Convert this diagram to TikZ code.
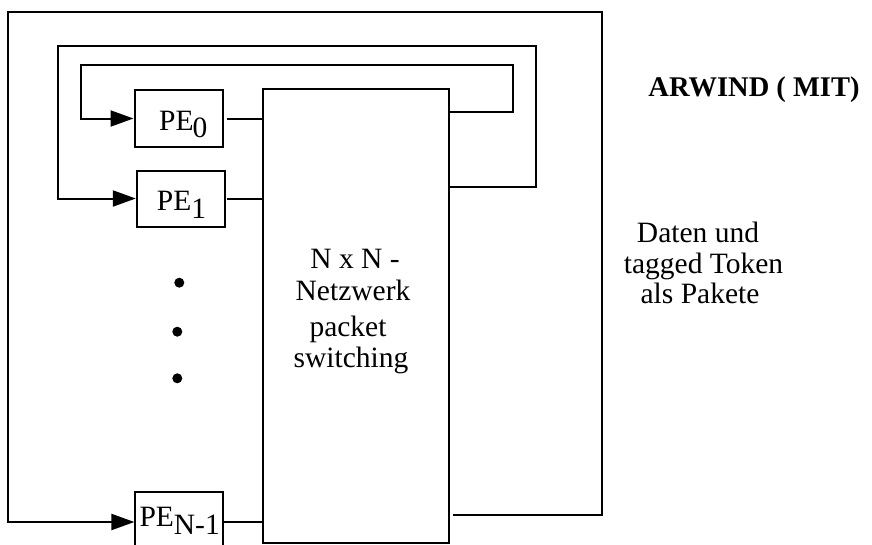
\documentclass[tikz,border=0pt]{standalone}
\usepackage{fontspec}
\setmainfont{Liberation Serif}
\usetikzlibrary{arrows.meta}
\begin{document}
\begin{tikzpicture}[x=1pt,y=-1pt,
  wire/.style={line width=2pt},
  feed/.style={wire,-{Triangle[length=23pt,width=16pt]}},
  pebox/.style={draw,line width=2pt,minimum width=88pt,inner sep=0pt},
  txt/.style={font=\fontsize{29.5}{34}\selectfont,inner sep=0pt,anchor=base},
  title/.style={font=\fontsize{28.5}{34}\selectfont\bfseries,inner sep=0pt,anchor=base}]
\useasboundingbox (0,0) rectangle (872,544);
\clip (0,0) rectangle (872,544);

% switching network
\node[draw,line width=2pt,minimum width=186pt,minimum height=454pt,inner sep=0pt]
  (sw) at (355.7,315.7) {};
\node[txt] (l1) at (355,268) {N x N -};
\node[txt] (l2) at (353,300) {Netzwerk};
\node[txt] (l3) at (348,336) {packet};
\node[txt] (l4) at (351,367) {switching};

% processing elements
\node[pebox,minimum height=57pt] (pe0) at (178.5,118.5) {};
\node[pebox,minimum height=56pt] (pe1) at (180.8,198.5) {};
\node[pebox,minimum height=60pt] (pen) at (179.4,522) {};
\node[txt,anchor=base west] (t0) at (159,130.7) {PE\kern-1pt\raisebox{-7pt}{0}};
\node[txt,anchor=base west] (t1) at (156.7,210) {PE\raisebox{-8pt}{1}};
\node[txt,anchor=base west] (tn) at (139.3,526.5) {PE\raisebox{-8pt}{N-1}};

% ellipsis dots
\fill (179.3,282.7) circle[radius=5pt];
\fill (177.3,331.7) circle[radius=5pt];
\fill (177.3,378.3) circle[radius=5pt];

% PE outputs into the network
\draw[wire] ([xshift=3pt]pe0.east) -- (pe0.east -| sw.west);
\draw[wire] ([xshift=1pt]pe1.east) -- (pe1.east -| sw.west);
\draw[wire] (pen.east) -- (pen.east -| sw.west);

% feedback paths from the network back to the PEs
\draw[feed] (sw.east |- 0,112) -| (512.7,65) -| (81.3,118.5) -- (pe0.west);
\draw[feed] (sw.east |- 0,186.7) -| (536,46) -| (58.3,198.5) -- (pe1.west);
\draw[feed] ([xshift=3pt]sw.east |- 0,515.3) -| (602,12) -| (8.3,522) -- (pen.west);

% captions
\node[title] (arw) at (754,96) {ARWIND ( MIT)};
\node[txt] (c1) at (698,242) {Daten und};
\node[txt] (c2) at (703.5,273) {tagged Token};
\node[txt] (c3) at (700,303) {als Pakete};
\end{tikzpicture}
\end{document}
